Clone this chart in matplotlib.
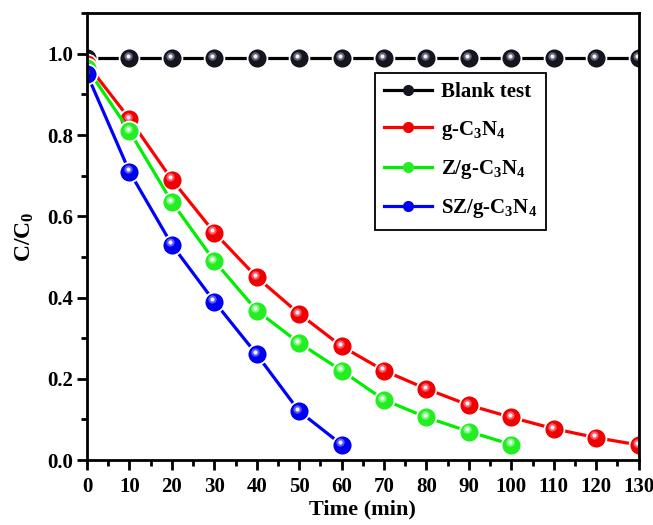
import matplotlib
matplotlib.use("Agg")
import matplotlib.pyplot as plt
from matplotlib.lines import Line2D
from matplotlib.ticker import MultipleLocator
from matplotlib.transforms import ScaledTranslation

plt.rcParams['font.family'] = ['Liberation Serif', 'DejaVu Serif']
plt.rcParams['mathtext.fontset'] = 'custom'
plt.rcParams['mathtext.rm'] = 'Liberation Serif:bold'
plt.rcParams['mathtext.bf'] = 'Liberation Serif:bold'
plt.rcParams['mathtext.default'] = 'bf'

blank_t = [0, 10, 20, 30, 40, 50, 60, 70, 80, 90, 100, 110, 120, 130]
blank_c = [0.99] * 14

gcn_t = [0, 10, 20, 30, 40, 50, 60, 70, 80, 90, 100, 110, 120, 130]
gcn_c = [0.975, 0.84, 0.69, 0.56, 0.45, 0.36, 0.28, 0.22, 0.175, 0.135, 0.105, 0.077, 0.055, 0.037]

z_t = [0, 10, 20, 30, 40, 50, 60, 70, 80, 90, 100]
z_c = [0.965, 0.81, 0.635, 0.49, 0.368, 0.288, 0.22, 0.148, 0.105, 0.07, 0.038]

sz_t = [0, 10, 20, 30, 40, 50, 60]
sz_c = [0.95, 0.71, 0.53, 0.39, 0.26, 0.12, 0.038]

labels = ['Blank test', 'g-C$_3$N$_4$', 'Z/g-C$_3$N$_4$', 'SZ/g-C$_3$N$_4$']
colors = ['#000000', '#ff0000', '#00ee00', '#0000ff']
shades = ['#15151f', '#f00000', '#22ee22', '#0000f0']
lights = ['#8a8aa0', '#ff8090', '#a0ffa0', '#8080ff']

fig = plt.figure(figsize=(6.53, 5.25), dpi=100)
ax = fig.add_axes([0.1332, 0.1238, 0.978 - 0.1332, 0.975 - 0.1238])

hl = ax.transData + ScaledTranslation(-1.8 / 100, 2.2 / 100, fig.dpi_scale_trans)

series = [(blank_t, blank_c), (gcn_t, gcn_c), (z_t, z_c), (sz_t, sz_c)]
for i, ((t, c), col, sh, li) in enumerate(zip(series, colors, shades, lights)):
    z0 = 2 + i * 0.1
    ax.plot(t, c, '-', color=col, lw=2.3, zorder=z0)
    ax.plot(t, c, 'o', color=sh, ms=14, mec='white', mew=1.6, zorder=z0 + 0.01)
    ax.plot(t, c, 'o', color=sh, ms=13, mew=0, zorder=z0 + 0.02)
    ax.plot(t, c, 'o', color=li, ms=6, mew=0, alpha=0.7, zorder=z0 + 0.03, transform=hl)
    ax.plot(t, c, 'o', color='#f4f0f8', ms=3, mew=0, zorder=z0 + 0.04, transform=hl)

ax.set_xlim(0, 130)
ax.set_ylim(0, 1.1)
ax.xaxis.set_major_locator(MultipleLocator(10))
ax.xaxis.set_minor_locator(MultipleLocator(5))
ax.yaxis.set_minor_locator(MultipleLocator(0.1))
ax.set_yticks([0.0, 0.2, 0.4, 0.6, 0.8, 1.0])
ax.set_yticklabels(['0.0', '0.2', '0.4', '0.6', '0.8', '1.0'])
ax.tick_params(which='major', direction='out', length=7, width=2, labelsize=15)
ax.tick_params(axis='x', which='major', pad=5)
ax.tick_params(axis='y', which='major', pad=3)
ax.tick_params(which='minor', direction='out', length=4, width=2)
for lab in ax.get_xticklabels() + ax.get_yticklabels():
    lab.set_fontweight('bold')
for s in ax.spines.values():
    s.set_linewidth(2)

ax.set_xlabel('Time (min)', fontsize=16, fontweight='bold', labelpad=2)
ax.set_ylabel('C/C$_0$', fontsize=17, fontweight='bold', labelpad=8)

handles = [Line2D([0], [0], color=col, lw=2.3, marker='o', ms=7, mfc=sh, mec=sh)
           for col, sh in zip(colors, shades)]
leg = ax.legend(handles, labels, loc='upper left', bbox_to_anchor=(0.522, 0.866),
                prop={'family': 'Liberation Serif', 'weight': 'bold', 'size': 15},
                fancybox=False, edgecolor='black', framealpha=1, handlelength=2.3,
                borderpad=0.45, labelspacing=0.78, handletextpad=0.4, borderaxespad=0)
leg.get_frame().set_linewidth(1.3)

fig.savefig('out.png', dpi=100)
